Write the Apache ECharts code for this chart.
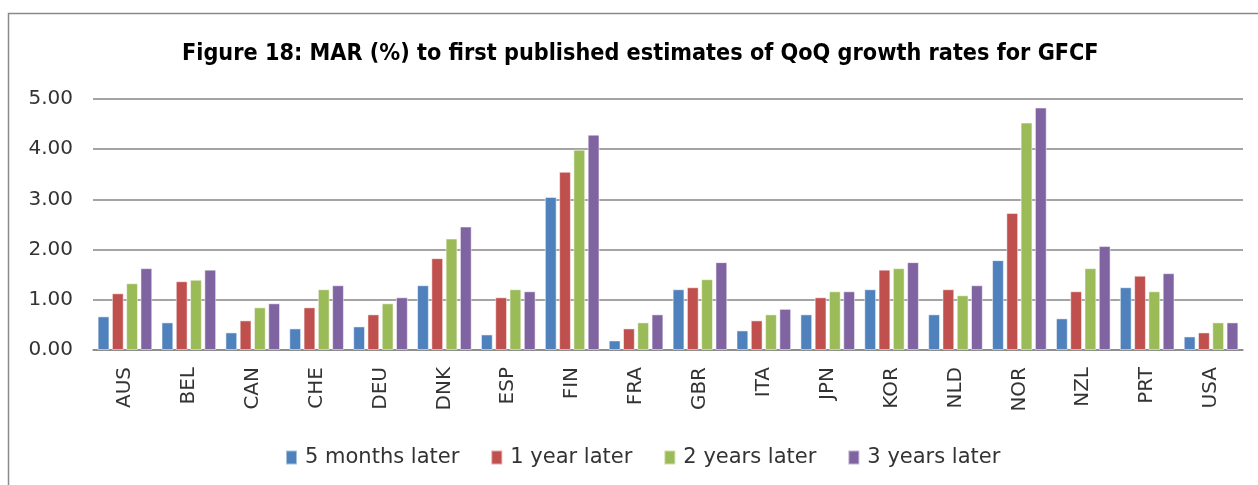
<!DOCTYPE html>
<html><head><meta charset="utf-8">
<script src="https://cdn.jsdelivr.net/npm/echarts@6/dist/echarts.min.js"></script>
<style>html,body{margin:0;padding:0;background:#fff}#c{width:1258px;height:485px}</style>
</head><body><div id="c"></div>
<script>
const categories = ['AUS','BEL','CAN','CHE','DEU','DNK','ESP','FIN','FRA','GBR','ITA','JPN','KOR','NLD','NOR','NZL','PRT','USA'];
const seriesNames = ['5 months later','1 year later','2 years later','3 years later'];
const months5 = [0.67,0.55,0.35,0.43,0.47,1.29,0.31,3.05,0.19,1.21,0.39,0.71,1.21,0.71,1.79,0.63,1.25,0.27];
const year1   = [1.13,1.37,0.59,0.85,0.71,1.83,1.05,3.55,0.43,1.25,0.59,1.05,1.60,1.21,2.73,1.17,1.48,0.35];
const years2  = [1.33,1.40,0.85,1.21,0.93,2.22,1.21,3.99,0.55,1.41,0.71,1.17,1.63,1.09,4.53,1.63,1.17,0.55];
const years3  = [1.63,1.60,0.93,1.29,1.05,2.46,1.17,4.29,0.71,1.75,0.82,1.17,1.75,1.29,4.83,2.07,1.53,0.55];
const yTicks = [0,1,2,3,4,5];
const colors = ['#4F81BD','#C0504D','#9BBB59','#8064A2'];
const values = [months5, year1, years2, years3];

const chart = echarts.init(document.getElementById('c'), null, {renderer:'canvas'});
chart.setOption({
  animation:false,
  backgroundColor:'#fff',
  graphic:[{type:'rect',shape:{x:8.5,y:13.5,width:1300,height:500},style:{fill:'none',stroke:'#8a8a8a',lineWidth:1.5},silent:true}],
  title:{text:'Figure 18: MAR (%) to first published estimates of QoQ growth rates for GFCF',left:177,top:37,
    textStyle:{fontFamily:'Liberation Sans Narrow, DejaVu Sans Condensed, sans-serif',fontWeight:'bold',fontSize:23.2,color:'#000'}},
  legend:{top:442,left:280,itemWidth:11,itemHeight:14,itemGap:31,icon:'rect',
    textStyle:{fontFamily:'DejaVu Sans',fontSize:21,color:'#333',padding:[0,0,0,3]},data:seriesNames},
  grid:{left:93,right:15,top:99,bottom:135,containLabel:false},
  xAxis:{type:'category',data:categories,
    axisLine:{lineStyle:{color:'#868686',width:1.5}},axisTick:{show:false},
    axisLabel:{rotate:90,fontFamily:'DejaVu Sans',fontSize:20,color:'#333',margin:17}},
  yAxis:{type:'value',min:yTicks[0],max:yTicks[yTicks.length-1],interval:1,
    axisLine:{show:false},axisTick:{show:false},
    splitLine:{lineStyle:{color:'#868686',width:1.5}},
    axisLabel:{formatter:v=>v.toFixed(2),fontFamily:'DejaVu Sans',fontSize:20,color:'#333',margin:20}},
  series: seriesNames.map((n,i)=>({name:n,type:'bar',data:values[i],barGap:'21%',barCategoryGap:'14.5%',
    itemStyle:{color:colors[i],borderColor:'rgba(255,255,255,0.5)',borderWidth:1}}))
});
</script></body></html>
